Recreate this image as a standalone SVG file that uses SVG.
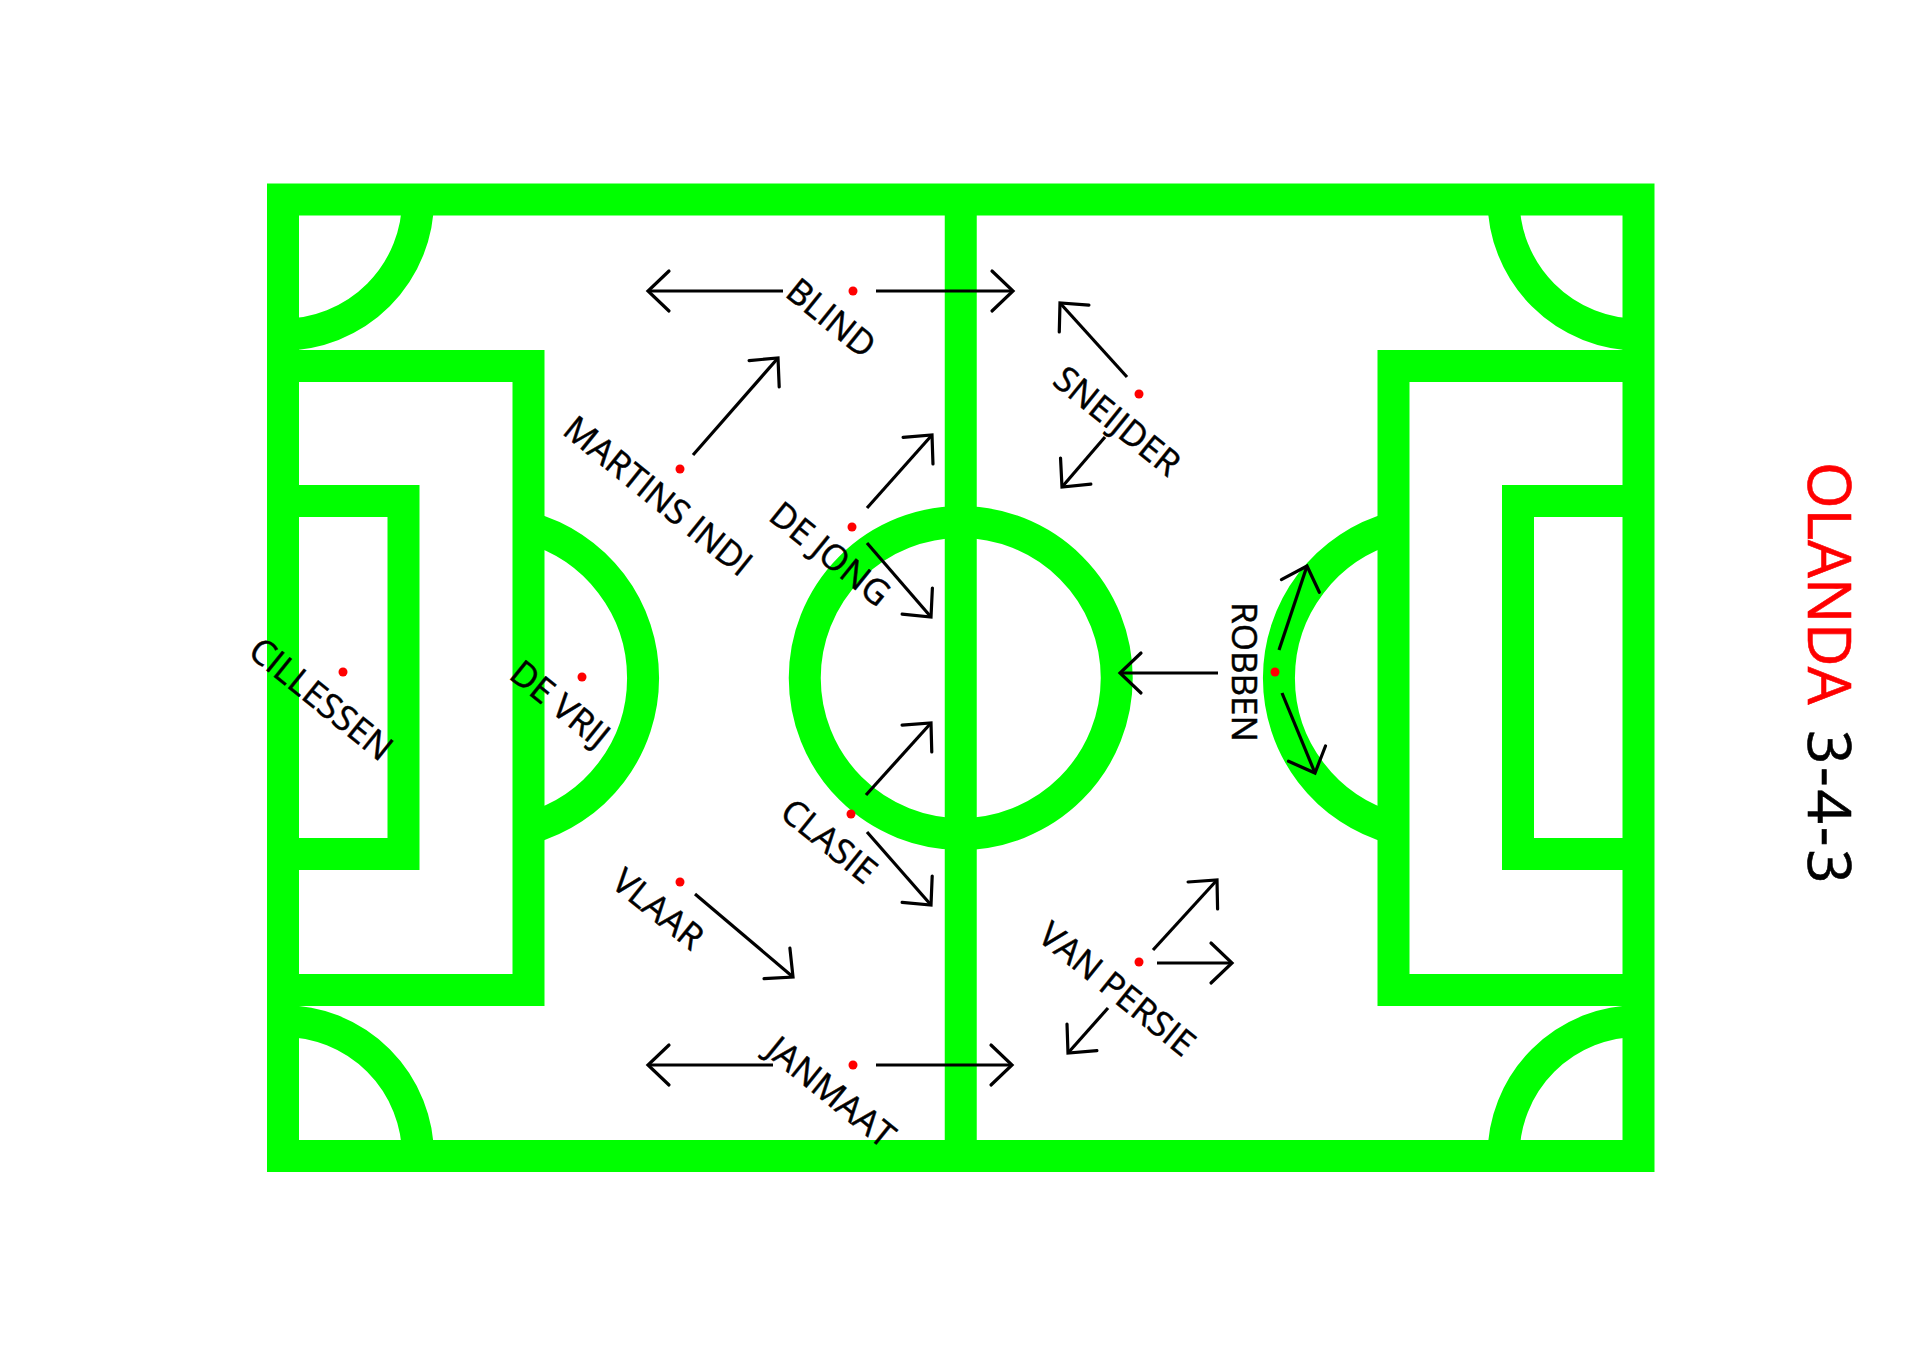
<svg xmlns="http://www.w3.org/2000/svg" width="1920" height="1356" viewBox="0 0 1920 1356">
  <defs>
    <style>
      .ln { fill: none; stroke: #00ff00; stroke-width: 32; }
      .arr { fill: none; stroke: #000; stroke-width: 3.2; marker-end: url(#ah); }
      .dot { fill: #ff0000; }
      .lbl { font-family: "Open Sans", "Noto Sans", sans-serif; font-size: 35px; fill: #000; stroke: #000; stroke-width: 0.5; text-anchor: middle; }
      .title { font-family: "Open Sans", "Noto Sans", sans-serif; font-size: 60px; stroke-width: 0.6; }
    </style>
    <marker id="ah" markerUnits="userSpaceOnUse" markerWidth="60" markerHeight="60" viewBox="-30 -30 60 60" refX="0" refY="0" orient="auto" overflow="visible">
      <path d="M-21,-20 L0,0 L-21,20" fill="none" stroke="#000" stroke-width="3.2" stroke-linecap="round"/>
    </marker>
  </defs>
  <rect width="1920" height="1356" fill="#fff"/>

  <g id="field">
    <rect class="ln" x="283" y="199.5" width="1355.5" height="956.5"/>
    <line class="ln" x1="960.75" y1="199.5" x2="960.75" y2="1156"/>
    <circle class="ln" cx="960.75" cy="678" r="156"/>
    <path class="ln" d="M283,366 H528.5 V990 H283"/>
    <path class="ln" d="M283,501 H403.5 V854 H283"/>
    <path class="ln" d="M1638.5,366 H1393.5 V990 H1638.5"/>
    <path class="ln" d="M1638.5,501 H1518 V854 H1638.5"/>
    <path class="ln" d="M528.5,527.6 A156 156 0 0 1 528.5 828.4"/>
    <path class="ln" d="M1393.5,527.6 A156 156 0 0 0 1393.5 828.4"/>
    <path class="ln" d="M418,199.5 A135 135 0 0 1 283 334.5"/>
    <path class="ln" d="M1503.5,199.5 A135 135 0 0 0 1638.5 334.5"/>
    <path class="ln" d="M283,1021 A135 135 0 0 1 418 1156"/>
    <path class="ln" d="M1503.5,1156 A135 135 0 0 1 1638.5 1021"/>
  </g>

  <g id="connectors">
    <line class="arr" x1="783" y1="291" x2="648" y2="291"/>
    <line class="arr" x1="876" y1="291" x2="1013" y2="291"/>
    <line class="arr" x1="1127" y1="377" x2="1060" y2="303"/>
    <line class="arr" x1="1105" y1="437" x2="1062" y2="487"/>
    <line class="arr" x1="693" y1="455" x2="778" y2="358"/>
    <line class="arr" x1="867" y1="508" x2="932" y2="435"/>
    <line class="arr" x1="867" y1="543" x2="931" y2="617"/>
    <line class="arr" x1="1218" y1="673" x2="1120" y2="673"/>
    <line class="arr" x1="1279" y1="650" x2="1307" y2="566"/>
    <line class="arr" x1="1282" y1="693" x2="1315" y2="773"/>
    <line class="arr" x1="866" y1="795" x2="931" y2="723"/>
    <line class="arr" x1="867" y1="832" x2="931" y2="905"/>
    <line class="arr" x1="695" y1="894" x2="793" y2="977"/>
    <line class="arr" x1="773" y1="1065" x2="648" y2="1065"/>
    <line class="arr" x1="876" y1="1065" x2="1012" y2="1065"/>
    <line class="arr" x1="1153" y1="950" x2="1217" y2="880"/>
    <line class="arr" x1="1157" y1="963" x2="1232" y2="963"/>
    <line class="arr" x1="1108" y1="1008" x2="1068" y2="1053"/>
  </g>

  <g id="player-blind" transform="translate(853,291)">
    <circle class="dot" r="4.5"/>
    <text class="lbl" transform="rotate(39)" x="0" y="47">BLIND</text>
  </g>
  <g id="player-sneijder" transform="translate(1139,394)">
    <circle class="dot" r="4.5"/>
    <text class="lbl" transform="rotate(39)" x="0" y="47">SNEIJDER</text>
  </g>
  <g id="player-martins-indi" transform="translate(680,469)">
    <circle class="dot" r="4.5"/>
    <text class="lbl" transform="rotate(39)" x="0" y="47">MARTINS INDI</text>
  </g>
  <g id="player-de-jong" transform="translate(852,527)">
    <circle class="dot" r="4.5"/>
    <text class="lbl" transform="rotate(39)" x="0" y="47">DE JONG</text>
  </g>
  <g id="player-cillessen" transform="translate(343,672)">
    <circle class="dot" r="4.5"/>
    <text class="lbl" transform="rotate(39)" x="0" y="47">CILLESSEN</text>
  </g>
  <g id="player-de-vrij" transform="translate(582,677)">
    <circle class="dot" r="4.5"/>
    <text class="lbl" transform="rotate(39)" x="0" y="47">DE VRIJ</text>
  </g>
  <g id="player-robben" transform="translate(1275,672)">
    <circle class="dot" r="4.5"/>
    <text class="lbl" transform="rotate(90)" x="0" y="43">ROBBEN</text>
  </g>
  <g id="player-clasie" transform="translate(851,814)">
    <circle class="dot" r="4.5"/>
    <text class="lbl" transform="rotate(39)" x="0" y="47">CLASIE</text>
  </g>
  <g id="player-vlaar" transform="translate(680,882)">
    <circle class="dot" r="4.5"/>
    <text class="lbl" transform="rotate(39)" x="0" y="47">VLAAR</text>
  </g>
  <g id="player-van-persie" transform="translate(1139,962)">
    <circle class="dot" r="4.5"/>
    <text class="lbl" transform="rotate(39)" x="0" y="47">VAN PERSIE</text>
  </g>
  <g id="player-janmaat" transform="translate(853,1065)">
    <circle class="dot" r="4.5"/>
    <text class="lbl" transform="rotate(39)" x="0" y="47">JANMAAT</text>
  </g>

  <g id="title" transform="translate(1808,0) rotate(90)">
    <text class="title" x="462" y="0"><tspan fill="#ff0000" stroke="#ff0000">OLANDA</tspan><tspan fill="#000" stroke="#000" x="730" letter-spacing="3">3-4-3</tspan></text>
  </g>
</svg>
